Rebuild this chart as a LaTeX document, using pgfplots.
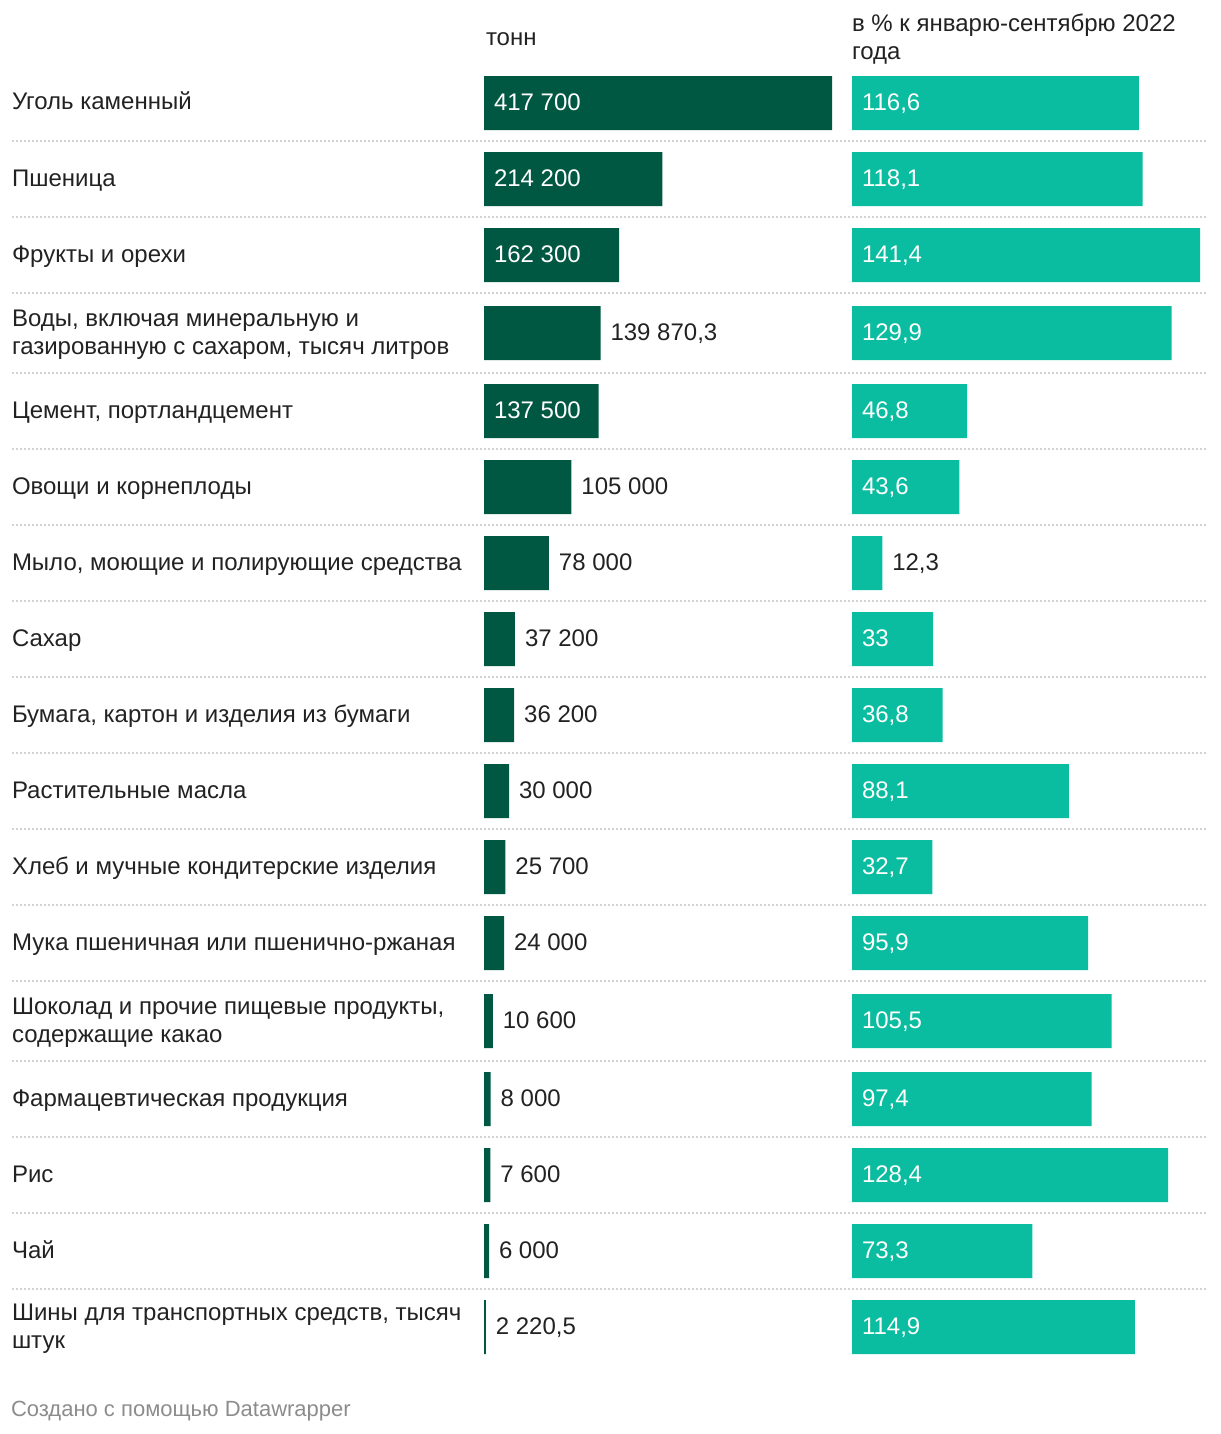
\documentclass[border=0pt]{standalone}
\usepackage{fontspec}
\setmainfont{Liberation Sans}
\usepackage{pgfplots}
\pgfplotsset{compat=1.18}
\definecolor{dkgreen}{RGB}{0,88,67}
\definecolor{teal2}{RGB}{11,189,160}
\definecolor{txt}{RGB}{34,34,34}
\definecolor{sep}{RGB}{210,210,210}
\definecolor{foot}{RGB}{140,140,140}
\begin{document}
\begin{tikzpicture}[every node/.style={inner sep=0pt, outer sep=0pt, font=\fontsize{12pt}{14pt}\selectfont, text=txt}]
\path (0pt,0pt) rectangle (610pt,-717pt);
% separators
\begin{axis}[at={(6pt,0pt)}, anchor=north west, scale only axis, width=598pt, height=717pt,
  xmin=0, xmax=1, ymin=0, ymax=1434, y dir=reverse,
  axis line style={draw=none}, tick style={draw=none}, xtick=\empty,
  ytick={141,217,293,373,449,525,601,677,753,829,905,981,1061,1137,1213,1289},
  yticklabels={}, ymajorgrids,
  grid style={sep, line width=1pt, dash pattern=on 1pt off 1pt}]
\addplot[draw=none] coordinates {(0,0)};
\end{axis}
% left axis: tonnes
\begin{axis}[at={(242pt,0pt)}, anchor=north west, scale only axis, width=174pt, height=717pt,
  xmin=0, xmax=417700, ymin=0, ymax=1434, y dir=reverse, hide axis, clip=false,
  every node near coord/.style={anchor=base west, xshift=5pt, yshift=-3.5pt, inner sep=0pt, font=\fontsize{12pt}{14pt}\selectfont}]
\addplot[xbar, bar width=54, bar shift=0pt, fill=dkgreen, draw=none] coordinates {
(417700,103) (214200,179) (162300,255) (139870.3,333) (137500,411) (105000,487)
(78000,563) (37200,639) (36200,715) (30000,791) (25700,867) (24000,943)
(10600,1021) (8000,1099) (7600,1175) (6000,1251) (2220.5,1327)};
\addplot[draw=none, mark=none, point meta=explicit symbolic, nodes near coords,
  every node near coord/.append style={text=white}] coordinates {
(0,103) [417 700] (0,179) [214 200] (0,255) [162 300] (0,411) [137 500]};
\addplot[draw=none, mark=none, point meta=explicit symbolic, nodes near coords,
  every node near coord/.append style={text=txt}] coordinates {
(139870.3,333) [139 870,3] (105000,487) [105 000] (78000,563) [78 000]
(37200,639) [37 200] (36200,715) [36 200] (30000,791) [30 000] (25700,867) [25 700]
(24000,943) [24 000] (10600,1021) [10 600] (8000,1099) [8 000] (7600,1175) [7 600]
(6000,1251) [6 000] (2220.5,1327) [2 220,5]};
\end{axis}
% right axis: percent
\begin{axis}[at={(426pt,0pt)}, anchor=north west, scale only axis, width=174pt, height=717pt,
  xmin=0, xmax=141.4, ymin=0, ymax=1434, y dir=reverse, hide axis, clip=false,
  every node near coord/.style={anchor=base west, xshift=5pt, yshift=-3.5pt, inner sep=0pt, font=\fontsize{12pt}{14pt}\selectfont}]
\addplot[xbar, bar width=54, bar shift=0pt, fill=teal2, draw=none] coordinates {
(116.6,103) (118.1,179) (141.4,255) (129.9,333) (46.8,411) (43.6,487)
(12.3,563) (33,639) (36.8,715) (88.1,791) (32.7,867) (95.9,943)
(105.5,1021) (97.4,1099) (128.4,1175) (73.3,1251) (114.9,1327)};
\addplot[draw=none, mark=none, point meta=explicit symbolic, nodes near coords,
  every node near coord/.append style={text=white}] coordinates {
(0,103) [116,6] (0,179) [118,1] (0,255) [141,4] (0,333) [129,9] (0,411) [46,8]
(0,487) [43,6] (0,639) [33] (0,715) [36,8] (0,791) [88,1] (0,867) [32,7]
(0,943) [95,9] (0,1021) [105,5] (0,1099) [97,4] (0,1175) [128,4] (0,1251) [73,3]
(0,1327) [114,9]};
\addplot[draw=none, mark=none, point meta=explicit symbolic, nodes near coords,
  every node near coord/.append style={text=txt}] coordinates {
(12.3,563) [12,3]};
\end{axis}
% headers
\node[anchor=base west] at (243pt,-23pt) {тонн};
\node[anchor=base west] at (426pt,-16pt) {в \% к январю-сентябрю 2022};
\node[anchor=base west] at (426pt,-30pt) {года};
% row labels
\node[anchor=base west] at (6pt,-55pt) {Уголь каменный};
\node[anchor=base west] at (6pt,-93pt) {Пшеница};
\node[anchor=base west] at (6pt,-131pt) {Фрукты и орехи};
\node[anchor=base west] at (6pt,-163pt) {Воды, включая минеральную и};
\node[anchor=base west] at (6pt,-177pt) {газированную с сахаром, тысяч литров};
\node[anchor=base west] at (6pt,-209pt) {Цемент, портландцемент};
\node[anchor=base west] at (6pt,-247pt) {Овощи и корнеплоды};
\node[anchor=base west] at (6pt,-285pt) {Мыло, моющие и полирующие средства};
\node[anchor=base west] at (6pt,-323pt) {Сахар};
\node[anchor=base west] at (6pt,-361pt) {Бумага, картон и изделия из бумаги};
\node[anchor=base west] at (6pt,-399pt) {Растительные масла};
\node[anchor=base west] at (6pt,-437pt) {Хлеб и мучные кондитерские изделия};
\node[anchor=base west] at (6pt,-475pt) {Мука пшеничная или пшенично-ржаная};
\node[anchor=base west] at (6pt,-507pt) {Шоколад и прочие пищевые продукты,};
\node[anchor=base west] at (6pt,-521pt) {содержащие какао};
\node[anchor=base west] at (6pt,-553pt) {Фармацевтическая продукция};
\node[anchor=base west] at (6pt,-591pt) {Рис};
\node[anchor=base west] at (6pt,-629pt) {Чай};
\node[anchor=base west] at (6pt,-660pt) {Шины для транспортных средств, тысяч};
\node[anchor=base west] at (6pt,-674pt) {штук};
% footer
\node[anchor=base west, text=foot, font=\fontsize{11pt}{14pt}\selectfont] at (5.5pt,-708pt) {Создано с помощью Datawrapper};
\end{tikzpicture}
\end{document}
